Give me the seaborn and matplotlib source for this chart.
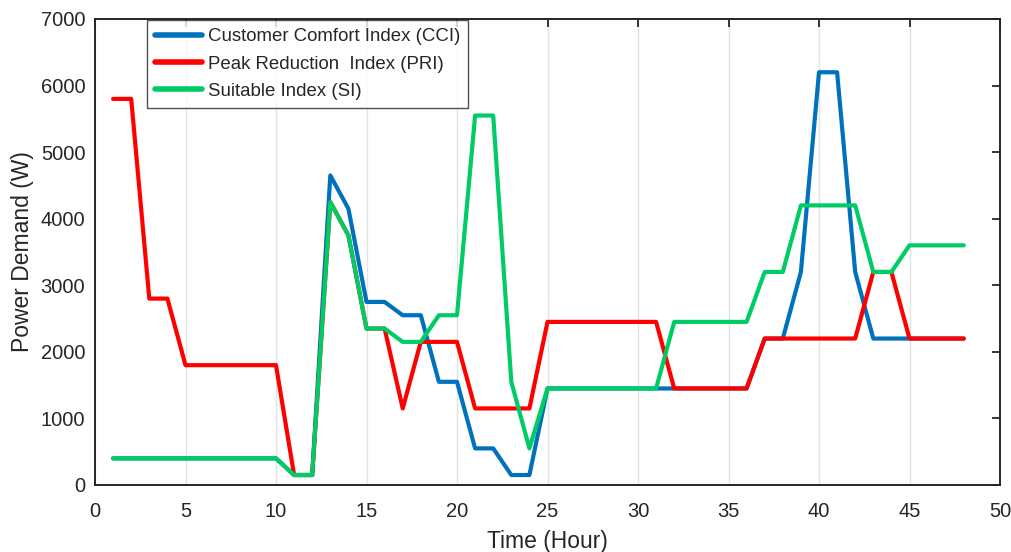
import numpy as np
import pandas as pd
import matplotlib
matplotlib.use("Agg")
import matplotlib.pyplot as plt
import seaborn as sns

hours = list(range(1, 49))
cci = [400]*10 + [150, 150, 4650, 4150, 2750, 2750, 2550, 2550, 1550, 1550,
       550, 550, 150, 150] + [1450]*12 + [2200, 2200, 3200, 6200, 6200, 3200,
       2200, 2200, 2200, 2200, 2200, 2200]
pri = [5800, 5800, 2800, 2800] + [1800]*6 + [150, 150, 4250, 3750, 2350, 2350,
       1150, 2150, 2150, 2150, 1150, 1150, 1150, 1150] + [2450]*7 + [1450]*5 + \
      [2200]*6 + [3200, 3200, 2200, 2200, 2200, 2200]
si = [400]*10 + [150, 150, 4250, 3750, 2350, 2350, 2150, 2150, 2550, 2550,
      5550, 5550, 1550, 550] + [1450]*7 + [2450]*5 + [3200, 3200, 4200, 4200,
      4200, 4200, 3200, 3200, 3600, 3600, 3600, 3600]

labels = ["Customer Comfort Index (CCI)", "Peak Reduction  Index (PRI)", "Suitable Index (SI)"]
colors = ["#0072BD", "#FF0000", "#00CC66"]
xticks = [0, 5, 10, 15, 20, 25, 30, 35, 40, 45, 50]
yticks = [0, 1000, 2000, 3000, 4000, 5000, 6000, 7000]

df = pd.DataFrame({
    "Hour": hours * 3,
    "Power": cci + pri + si,
    "Series": [labels[0]]*48 + [labels[1]]*48 + [labels[2]]*48,
})

sns.set_theme(style="white")
plt.rcParams["font.family"] = ["Liberation Sans", "DejaVu Sans"]

fig = plt.figure(figsize=(10.12, 5.52), dpi=100)
ax = fig.add_axes([95/1012, 1-485/552, (1000-95)/1012, (485-19)/552])
sns.lineplot(data=df, x="Hour", y="Power", hue="Series", palette=colors,
             hue_order=labels, linewidth=3, ax=ax, sort=False)

ax.set_xlim(0, 50)
ax.set_ylim(0, 7000)
ax.set_xticks(xticks)
ax.set_yticks(yticks)
ax.xaxis.grid(True, color="#e3e3e3", linewidth=1)
ax.yaxis.grid(False)
ax.set_axisbelow(True)
ax.tick_params(direction="in", length=6, width=1.3, top=True, right=True,
               labelsize=14.5, colors="#262626", labelcolor="#262626")
ax.tick_params(axis="x", pad=12)
ax.tick_params(axis="y", pad=7)
for s in ax.spines.values():
    s.set_color("#262626")
    s.set_linewidth(1.4)
ax.set_xlabel("Time (Hour)", fontsize=16.5, color="#262626", labelpad=7)
ax.set_ylabel("Power Demand (W)", fontsize=16.5, color="#262626", labelpad=5)

leg = ax.legend(loc="upper left", bbox_to_anchor=(0.0575, 0.998), fontsize=13.4,
                frameon=True, fancybox=False, handlelength=2.5, borderpad=0.45,
                labelspacing=0.55, handletextpad=0.3, borderaxespad=0)
leg.get_frame().set_edgecolor("#262626")
leg.get_frame().set_linewidth(1.0)
for h in leg.get_lines():
    h.set_linewidth(4)

fig.savefig("out.png", dpi=100)
